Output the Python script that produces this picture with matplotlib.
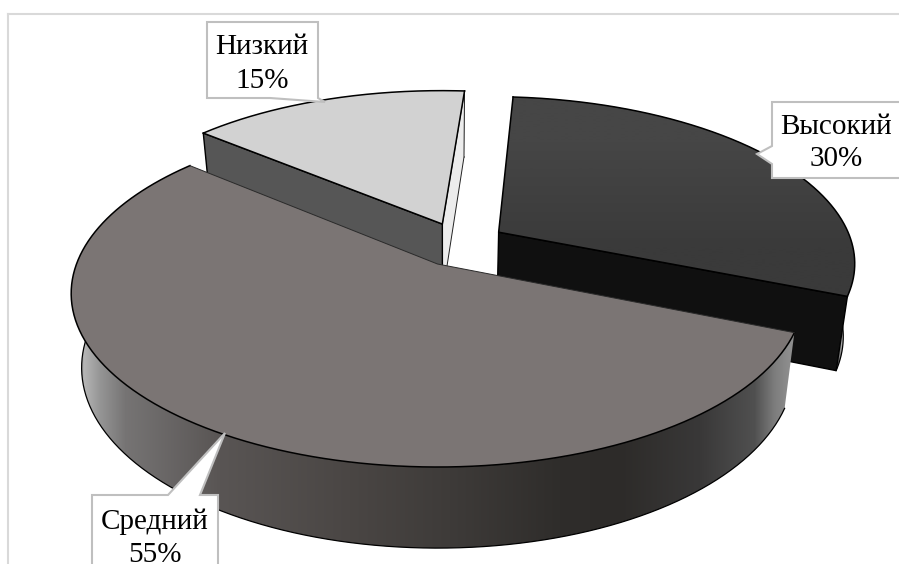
import numpy as np
import matplotlib
matplotlib.use("Agg")
import matplotlib.pyplot as plt
from matplotlib.patches import Polygon
from matplotlib.colors import to_rgb

labels = ["Высокий", "Средний", "Низкий"]
values = [30, 55, 15]
top_colors = ["#3e3e3e", "#7b7574", "#d2d2d2"]
cut_colors = ["#101010", "#7b7574", "#565656"]
strip_color = "#ececec"
grid_color = "#d9d9d9"
box_color = "#bfbfbf"

# ground-plane offsets of the three exploded slices
explode = {"Высокий": (0.175, 0.195), "Средний": (0.0, 0.0), "Низкий": (0.014, 0.247)}
start_angle = 85.6

# perspective of the disc (pixel axes)
CX, CY, AX, BY, K = 437.5, 264.0, 361.0, 168.5, 0.17


def project(X, Y):
    X, Y = np.asarray(X), np.asarray(Y)
    d = 1 + K * Y
    return CX + AX * X / d, CY - BY * Y / d


def lower(x, y):
    """Point of the underside below a top-face point."""
    return x - (x - 445) * 0.028, y + 62.4 + 0.04 * y


rim_x = {
    "Средний": [70, 84, 100, 125, 220, 350, 450, 560, 620, 700, 755, 775, 790],
    "Высокий": [820, 836, 844, 852],
    "Низкий": [0, 900],
}
rim_g = {
    "Средний": ["#666666", "#b5b5b5", "#959595", "#767474", "#595554", "#4a4644", "#3e3b39",
                "#2f2d2b", "#2d2b29", "#393838", "#505050", "#7d7d7d", "#8e8e8e"],
    "Высокий": ["#101010", "#333333", "#cccccc", "#444444"],
    "Низкий": ["#555555", "#555555"],
}


fig = plt.figure(figsize=(8.99, 5.64), dpi=100)
ax = fig.add_axes([0, 0, 1, 1])
ax.set_xlim(0, 899)
ax.set_ylim(564, 0)
ax.axis("off")


def gradient_fill(poly, rgb_row, extent, zorder):
    patch = Polygon(poly, closed=True, fc="none", ec="none", zorder=zorder)
    ax.add_patch(patch)
    im = ax.imshow(rgb_row, extent=extent, aspect="auto", interpolation="bilinear", zorder=zorder)
    im.set_clip_path(patch)


ax.plot([8, 899], [14, 14], color=grid_color, lw=1.5, zorder=1)
ax.plot([8, 8], [14, 564], color=grid_color, lw=1.5, zorder=1)

# angular spans from the data, clockwise
spans = {}
a = start_angle
for n, v in zip(labels, values):
    spans[n] = (a, a - v * 3.6)
    a -= v * 3.6

xs = np.arange(0, 900)
z = 2
for name in ["Низкий", "Высокий", "Средний"]:
    i = labels.index(name)
    a0, a1 = spans[name]
    th = np.radians(np.linspace(a0, a1, 240))
    ex, ey = explode[name]
    rx, ry = project(ex + np.cos(th), ey + np.sin(th))
    tx, ty = project(ex, ey)
    bx, by = lower(rx, ry)
    btx, bty = lower(tx, ty)
    # rim, shaded across the screen
    stops = np.array([to_rgb(c) for c in rim_g[name]])
    row = np.stack([np.interp(xs, rim_x[name], stops[:, k]) for k in range(3)], axis=1)[None, :, :]
    poly = np.column_stack([np.r_[rx, bx[::-1]], np.r_[ry, by[::-1]]])
    gradient_fill(poly, row, (0, 899, 564, 0), z)
    ax.plot(bx, by, color="black", lw=0.9, zorder=z + 0.1)
    # cut faces
    if name == "Низкий":
        ax.add_patch(Polygon([(tx, ty), (rx[-1], ry[-1]), (bx[-1], by[-1]), (btx, bty)], closed=True,
                             fc=strip_color, ec="#222222", lw=0.7, zorder=z + 0.2))
        ax.add_patch(Polygon([(tx, ty), (rx[0], ry[0]), (bx[0], by[0]), (btx, bty)], closed=True,
                             fc=cut_colors[i], ec="black", lw=1.0, zorder=z + 0.3))
    if name == "Высокий":
        ax.add_patch(Polygon([(tx, ty), (rx[-1], ry[-1]), (bx[-1], by[-1]), (btx, bty)], closed=True,
                             fc=cut_colors[i], ec="black", lw=1.0, zorder=z + 0.3))
    # top face
    top = np.column_stack([np.r_[tx, rx], np.r_[ty, ry]])
    if name == "Высокий":
        g = np.array([[to_rgb("#464646")], [to_rgb("#3a3a3a")]])
        gradient_fill(top, g, (0, 899, 300, 90), z + 0.4)
    else:
        ax.add_patch(Polygon(top, closed=True, fc=top_colors[i], ec="none", zorder=z + 0.4))
    ax.plot(rx, ry, color="black", lw=1.1, zorder=z + 0.5)
    if name != "Средний":
        ax.plot([rx[0], tx, rx[-1]], [ry[0], ty, ry[-1]], color="black", lw=1.1, zorder=z + 0.5)
    else:
        ax.plot([rx[0], tx, rx[-1]], [ry[0], ty, ry[-1]], color="#2a2a2a", lw=0.7, zorder=z + 0.5)
    z += 1

ax.set_xlim(0, 899)
ax.set_ylim(564, 0)


def callout(name, pts, text_xy):
    i = labels.index(name)
    ax.add_patch(Polygon(pts, closed=True, fc="white", ec=box_color, lw=1.5, zorder=10,
                         joinstyle="miter"))
    ax.text(text_xy[0], text_xy[1], f"{name}\n{values[i]}%", ha="center", va="center",
            family="Liberation Serif", fontsize=21, linespacing=1.35, color="black", zorder=11)


callout("Низкий", [(207, 22), (318, 22), (318, 98), (325, 102), (270, 98), (207, 98)], (262, 64))
callout("Высокий", [(772, 102), (905, 102), (905, 178), (772, 178), (772, 164), (757, 154), (772, 146)], (836, 143))
callout("Средний", [(92, 495), (168, 495), (225, 433), (200, 495), (218, 495), (218, 580), (92, 580)], (155, 538))

fig.savefig("out.png", dpi=100)
